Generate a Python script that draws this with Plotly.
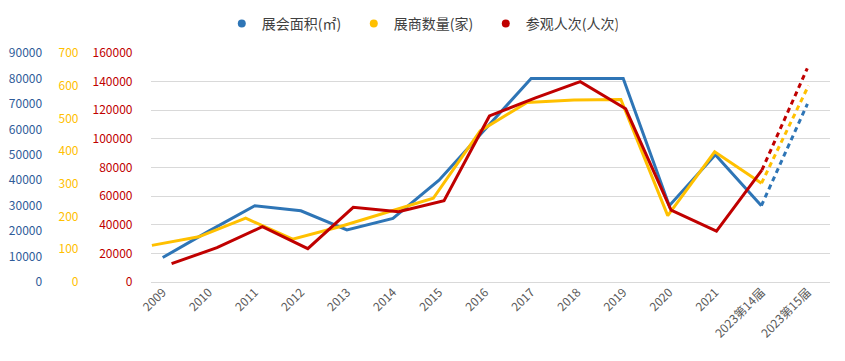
import plotly.graph_objects as go

categories = ["2009", "2010", "2011", "2012", "2013", "2014", "2015", "2016",
              "2017", "2018", "2019", "2020", "2021", "2023第14届", "2023第15届"]
area = [9600, 20000, 30000, 28000, 20500, 25000, 40000, 60000,
        80000, 80000, 80000, 30000, 50000, 30000, 70000]
exhibitors = [112, 138, 195, 131, 169, 212, 256, 462,
              549, 556, 558, 203, 398, 302, 600]
visitors = [12800, 24000, 38600, 23300, 52200, 49100, 56800, 116000,
            128500, 140000, 121000, 50300, 35600, 78200, 149300]

names = ["展会面积(㎡)", "展商数量(家)", "参观人次(人次)"]
BLUE = "#2E75B6"
YELLOW = "#FFC000"
RED = "#C00000"
BLUE_LBL = "#2F5C99"
FONT = "Noto Sans CJK SC"

# page body has an 8px margin; figure sized so that it fits the 845x361 window
W, H = 829, 345
PL, PR = 132, 822          # plot area left/right (figure px)
PT, PB = 45, 274           # plot area top/bottom (figure px)

fig = go.Figure()

series = [
    (area, BLUE, "x", "y3"),
    (exhibitors, YELLOW, "x2", "y2"),
    (visitors, RED, "x3", "y"),
]
for vals, col, xa, ya in series:
    fig.add_trace(go.Scatter(x=categories[:-1], y=vals[:-1], mode="lines",
                             line=dict(color=col, width=3), xaxis=xa, yaxis=ya,
                             showlegend=False, hoverinfo="skip"))
    fig.add_trace(go.Scatter(x=categories[-2:], y=vals[-2:], mode="lines",
                             line=dict(color=col, width=3, dash="5px,4px"),
                             xaxis=xa, yaxis=ya, showlegend=False, hoverinfo="skip"))

for nm, col in zip(names, [BLUE, YELLOW, RED]):
    fig.add_trace(go.Scatter(x=[None], y=[None], mode="markers", name=nm,
                             marker=dict(color=col, size=8)))

paper_w = PR
ytick_common = dict(ticks="outside", ticklen=6, tickcolor="rgba(0,0,0,0)",
                    showline=False, tickformat="d")
fig.update_layout(
    width=W, height=H,
    margin=dict(l=0, r=W - PR, t=PT, b=H - PB, pad=0),
    paper_bgcolor="white", plot_bgcolor="white",
    font=dict(family=FONT, size=12, color="#595959"),
    xaxis=dict(type="category", domain=[PL / paper_w, 1], range=[-0.256, 14.49],
               tickangle=-45, showgrid=False, showline=False, zeroline=False,
               ticks="", tickfont=dict(size=12, color="#595959")),
    xaxis2=dict(type="category", overlaying="x", range=[-0.021, 14.46], visible=False),
    xaxis3=dict(type="category", overlaying="x", range=[-0.455, 14.5], visible=False),
    yaxis=dict(range=[0, 160000], dtick=20000, showgrid=True, gridcolor="#D9D9D9",
               gridwidth=1, zeroline=True, zerolinecolor="#D9D9D9", zerolinewidth=1,
               tickfont=dict(color=RED, size=12), anchor="x", side="left",
               ticklabelstandoff=9, **ytick_common),
    yaxis2=dict(range=[0, 700], dtick=100, overlaying="y", anchor="free",
                position=67 / paper_w, side="left", showgrid=False, zeroline=False,
                tickfont=dict(color=YELLOW, size=12), **ytick_common),
    yaxis3=dict(range=[0, 90000], dtick=10000, overlaying="y", anchor="free",
                position=30 / paper_w, side="left", showgrid=False, zeroline=False,
                tickfont=dict(color=BLUE_LBL, size=12), **ytick_common),
    legend=dict(orientation="h", xref="paper", x=204 / paper_w, xanchor="left",
                yref="container", y=1 - 16 / H, yanchor="middle",
                entrywidth=87, entrywidthmode="pixels",
                font=dict(size=14, color="#404040"), bgcolor="rgba(0,0,0,0)"),
)

fig.write_html("out.html")
